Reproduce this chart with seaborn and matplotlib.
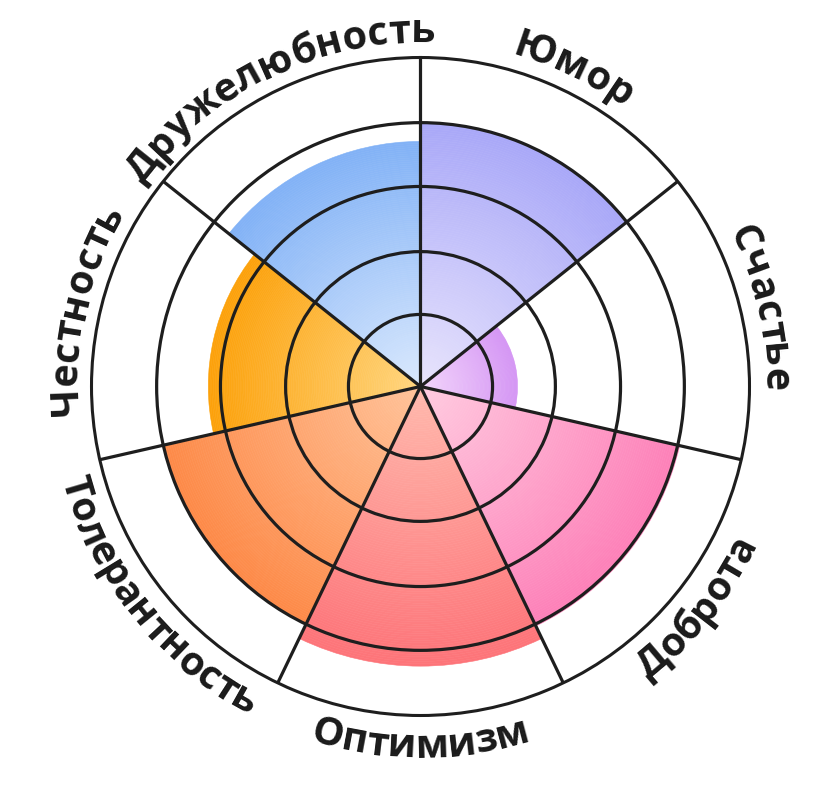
import numpy as np
import matplotlib
matplotlib.use("Agg")
import matplotlib.pyplot as plt
import seaborn as sns
from matplotlib.font_manager import FontProperties

# Sectors clockwise from the top
labels = ["Юмор", "Счастье", "Доброта", "Оптимизм", "Толерантность", "Честность", "Дружелюбность"]
scores = [80.2, 29.5, 80.8, 85.0, 80.2, 64.5, 74.5]
inner_colors = ["#e8e4fc", "#f3d6fb", "#ffcbe0", "#ffb9ad", "#ffc39a", "#ffd67f", "#dae9fd"]
outer_colors = ["#a9a8f8", "#d596f4", "#fd80b8", "#fd7479", "#fd8a48", "#fca10a", "#82b2f6"]
rings = [21.9, 41.0, 60.8, 80.2]
r_max = 100
R_PX = 329  # outer radius in pixels

sns.set_theme(style="white")
plt.rcParams["font.family"] = ["Open Sans", "DejaVu Sans"]

fig = plt.figure(figsize=(8.37, 8.02), dpi=100)
fig.patch.set_facecolor("white")
ax = fig.add_axes([91.5 / 837, 86.5 / 802, 658 / 837, 658 / 802], projection="polar")
ax.set_theta_zero_location("N")
ax.set_theta_direction(-1)
ax.set_facecolor("white")

n = len(labels)
width = 2 * np.pi / n
centers = (np.arange(n) + 0.5) * width

# Radial gradient: many thin stacked bars per sector
steps = 120
for c, score, c0, c1 in zip(centers, scores, inner_colors, outer_colors):
    shades = sns.blend_palette([c0, c1], steps)
    edges = np.linspace(0, score, steps + 1)
    ax.bar(np.full(steps, c), np.diff(edges), width=width, bottom=edges[:-1],
           color=shades, edgecolor=shades, linewidth=0.4, align="center")

line_col = "#1e1e1e"
ax.set_ylim(0, r_max)
ax.set_yticks(rings)
ax.set_yticklabels([])
ax.set_xticks(np.arange(n) * width)
ax.set_xticklabels([])
ax.tick_params(length=0)
ax.grid(True, color=line_col, linewidth=2.3)
ax.set_axisbelow(False)
ax.spines["polar"].set_color(line_col)
ax.spines["polar"].set_linewidth(2.2)

# Curved labels, one character at a time
fp = FontProperties(family=["Open Sans", "DejaVu Sans"], weight="bold", size=28.5)
renderer = fig.canvas.get_renderer()


def text_w(s):
    if not s:
        return 0.0
    w, h, d = renderer.get_text_width_height_descent(s, fp, ismath=False)
    return w


bottom_labels = {"Доброта", "Оптимизм", "Толерантность"}
for c, label in zip(centers, labels):
    total = text_w(label)
    flip = label in bottom_labels
    r_base = 371 if flip else 344
    for i, ch in enumerate(label):
        mid = (text_w(label[:i]) + text_w(label[:i + 1])) / 2 - total / 2
        dth = mid / r_base
        th = c - dth if flip else c + dth
        rot = 180 - np.degrees(th) if flip else -np.degrees(th)
        ax.text(th, r_base / R_PX * r_max, ch, rotation=rot, rotation_mode="anchor",
                ha="center", va="baseline", fontproperties=fp, color="#1a1a1a")

plt.savefig("out.png", dpi=100)
